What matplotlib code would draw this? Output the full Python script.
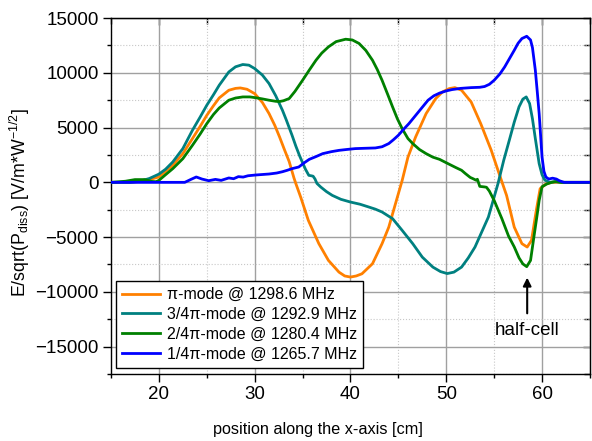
import numpy as np
import matplotlib
matplotlib.use("Agg")
import matplotlib.pyplot as plt
from matplotlib.ticker import MultipleLocator

plt.rcParams["font.family"] = ["Liberation Sans", "DejaVu Sans"]
plt.rcParams["mathtext.fontset"] = "custom"
plt.rcParams["mathtext.rm"] = "Liberation Sans"
plt.rcParams["mathtext.it"] = "Liberation Sans:italic"

# pi-mode @ 1298.6 MHz
pi_x = [15, 17, 18, 19, 20, 20.7, 21.45, 22.5, 23.5, 24.3, 25, 25.7, 26.3, 27.3, 28,
        28.5, 29.2, 30, 30.8, 31.5, 32.1, 32.6, 33.1, 33.6, 34.1, 34.3, 34.8, 35.6,
        36.7, 37.7, 38.8, 39.4, 40.0, 40.6, 41.2, 42.3, 43.3, 44.0, 44.7, 45.4, 46.0,
        46.8, 47.9, 48.9, 49.6, 50.3, 50.9, 51.6, 52.6, 53.6, 54.7, 55.4, 56.3, 57.1,
        57.9, 58.45, 58.9, 59.4, 59.8, 60.4, 61, 65]
pi_y = [0, 0, 80, 250, 490, 1000, 1550, 2620, 3990, 5100, 6120, 7000, 7710, 8410, 8580,
        8620, 8500, 8100, 7300, 6280, 5200, 4140, 3000, 1900, 400, -120, -1340, -3470,
        -5600, -7130, -8200, -8550, -8650, -8550, -8350, -7430, -5600, -4090, -1950,
        180, 2300, 4140, 6280, 7650, 8250, 8560, 8650, 8410, 7340, 5360, 2920, 1100,
        -1200, -4090, -5600, -5910, -5300, -2560, -580, -150, 0, 0]

# 3/4pi-mode @ 1292.9 MHz
t34_x = [15, 17, 18, 19, 20, 20.7, 21.45, 22.5, 23.5, 24.3, 25, 25.7, 26.3, 27.3, 28,
         28.76, 29.4, 30, 30.8, 31.5, 32.2, 32.9, 33.3, 33.9, 34.3, 34.7, 35.0, 35.3,
         35.65, 35.9, 36.1, 36.3, 36.5, 36.9, 37.5, 38.1, 39, 40, 41, 41.9, 42.6, 43.3,
         44.4, 45.4, 46.5, 47.5, 48.6, 49.4, 50.1, 50.8, 51.6, 52.3, 53, 54.4, 55.4, 56,
         56.6, 57.1, 57.6, 58.0, 58.35, 58.7, 59.0, 59.3, 59.7, 60.0, 60.3, 60.8, 61.3,
         62, 65]
t34_y = [0, 0, 100, 350, 750, 1200, 1860, 3080, 4750, 5950, 7040, 8000, 8870, 10080,
         10550, 10760, 10700, 10390, 9800, 9020, 7900, 6580, 5700, 4300, 3300, 2400,
         1800, 1200, 640, 600, 560, 300, -100, -430, -850, -1190, -1550, -1800, -2000,
         -2250, -2450, -2710, -3320, -4390, -5600, -6830, -7740, -8150, -8330, -8200,
         -7740, -6900, -5910, -3170, -120, 2010, 3900, 5500, 6900, 7600, 7800, 7200,
         5800, 4000, 1710, 700, 200, 0, 60, 0, 0]

# 2/4pi-mode @ 1280.4 MHz
t24_x = [15, 16.5, 17.5, 18.5, 19.3, 19.7, 20, 20.7, 21.45, 22.5, 23.5, 24.3, 25, 25.7,
         26.3, 27.3, 28, 28.76, 29.5, 30, 30.8, 31.5, 32.2, 32.6, 33.0, 33.6, 34.2, 35.0,
         35.7, 36.4, 37.0, 37.7, 38.5, 39.5, 40.2, 40.9, 41.6, 42.3, 42.8, 43.3, 43.9,
         44.4, 44.9, 45.4, 46.0, 46.5, 47.2, 47.9, 48.6, 49.3, 50.2, 51.0, 51.6, 52.0,
         52.5, 52.8, 53.1, 53.25, 53.5, 54.0, 54.2, 54.5, 55.0, 55.8, 56.5, 57.1, 57.6,
         58.0, 58.4, 58.8, 59.2, 59.5, 59.7, 60.0, 60.5, 61, 61.5, 62, 65]
t24_y = [0, 100, 250, 250, 80, 60, 180, 700, 1250, 2160, 3380, 4400, 5360, 6200, 6790,
         7500, 7700, 7800, 7800, 7740, 7620, 7500, 7400, 7380, 7450, 7650, 8300, 9320,
         10250, 11150, 11800, 12370, 12850, 13070, 13000, 12680, 12050, 11150, 10300,
         9320, 8000, 6880, 5800, 4900, 4000, 3540, 3000, 2620, 2300, 2100, 1700, 1350,
         1100, 800, 450, 330, 200, 280, -370, -420, -450, -800, -1650, -3300, -4900,
         -5900, -6900, -7450, -7700, -7130, -4690, -2900, -1650, -400, -150, 0, 80, 0, 0]

# 1/4pi-mode @ 1265.7 MHz
t14_x = [15, 22.7, 23.3, 23.9, 24.5, 25.2, 25.9, 26.5, 27.3, 27.8, 28.3, 28.8, 29.3,
         30.1, 31.5, 32.3, 32.9, 33.4, 33.9, 34.6, 35.2, 35.7, 36.4, 37.1, 38.0, 38.8,
         39.6, 40.5, 41.5, 42.6, 43.3, 44.0, 44.5, 45.0, 45.5, 46.1, 47.1, 48.1, 48.7,
         49.3, 50.0, 50.6, 51.5, 52.6, 53.5, 54.0, 54.5, 55.0, 55.6, 56.1, 56.6, 57.1,
         57.5, 57.9, 58.4, 58.8, 59.0, 59.3, 59.5, 59.7, 59.85, 60.0, 60.2, 60.4, 60.7,
         61.1, 61.5, 61.8, 62.3, 65]
t14_y = [0, 0, 250, 490, 300, 150, 270, 180, 400, 330, 520, 480, 600, 670, 760, 850,
         970, 1100, 1250, 1400, 1800, 2100, 2350, 2620, 2800, 2920, 3000, 3080, 3110,
         3140, 3250, 3540, 3900, 4300, 4800, 5360, 6430, 7500, 7900, 8150, 8350, 8470,
         8580, 8650, 8680, 8750, 8950, 9320, 9900, 10540, 11300, 12060, 12700, 13130,
         13340, 13000, 12300, 10240, 8300, 6280, 4300, 2310, 1000, 490, 300, 380, 300,
         150, 0, 0]

series = [
    (pi_x, pi_y, "#FF8000", "π-mode @ 1298.6 MHz"),
    (t34_x, t34_y, "#008080", "3/4π-mode @ 1292.9 MHz"),
    (t24_x, t24_y, "#008000", "2/4π-mode @ 1280.4 MHz"),
    (t14_x, t14_y, "#0000FF", "1/4π-mode @ 1265.7 MHz"),
]

fig = plt.figure(figsize=(5.92, 4.41), dpi=100)
ax = fig.add_axes([0.1875, 0.152, 0.809, 0.807])

for xs, ys, col, lab in series:
    ax.plot(xs, ys, color=col, lw=2, label=lab, zorder=3, solid_joinstyle="round")

ax.set_xlim(15, 65)
ax.set_ylim(-17500, 15000)
ax.xaxis.set_major_locator(MultipleLocator(10))
ax.xaxis.set_minor_locator(MultipleLocator(5))
ax.yaxis.set_major_locator(MultipleLocator(5000))
ax.yaxis.set_minor_locator(MultipleLocator(2500))

ax.grid(True, which="major", color="#a0a0a0", lw=1.0, ls="-", zorder=0)
ax.grid(True, which="minor", color="#c8c8c8", lw=0.8, ls=":", zorder=0)

ax.tick_params(which="major", direction="out", length=5.5, width=1, labelsize=13.5)
ax.tick_params(which="minor", direction="out", length=3, width=1)

# mirrored ticks pointing inward on top and right
sx = ax.secondary_xaxis("top")
sx.xaxis.set_major_locator(MultipleLocator(10))
sx.xaxis.set_minor_locator(MultipleLocator(5))
sx.tick_params(which="major", direction="in", length=5, width=1, labeltop=False)
sx.tick_params(which="minor", direction="in", length=4, width=1)
sy = ax.secondary_yaxis("right")
sy.yaxis.set_major_locator(MultipleLocator(5000))
sy.yaxis.set_minor_locator(MultipleLocator(2500))
sy.tick_params(which="major", direction="in", length=5, width=1, labelright=False)
sy.tick_params(which="minor", direction="in", length=4, width=1)

for sp in ax.spines.values():
    sp.set_linewidth(1)

ax.set_xlabel("position along the x-axis [cm]", fontsize=11.7)
ax.xaxis.set_label_coords(0.432, -0.136)
ax.set_ylabel(r"E/sqrt(P$_{\rm diss}$) [V/m*W$^{-1/2}$]", fontsize=12.8)
ax.yaxis.set_label_coords(-0.165, 0.482)

ax.annotate("half-cell", xy=(58.45, -8700), xytext=(58.45, -13500),
            ha="center", va="center", fontsize=13.5,
            arrowprops=dict(arrowstyle="-|>", color="black", lw=1.5,
                            shrinkA=4, shrinkB=0, mutation_scale=12))

leg = ax.legend(loc="lower left", bbox_to_anchor=(0.0098, 0.017), borderaxespad=0,
                fontsize=11.5, fancybox=False, edgecolor="black", framealpha=1,
                handlelength=2.4, handletextpad=0.4, labelspacing=0.3,
                borderpad=0.4)
leg.get_frame().set_linewidth(1)

fig.savefig("out.png", dpi=100)
